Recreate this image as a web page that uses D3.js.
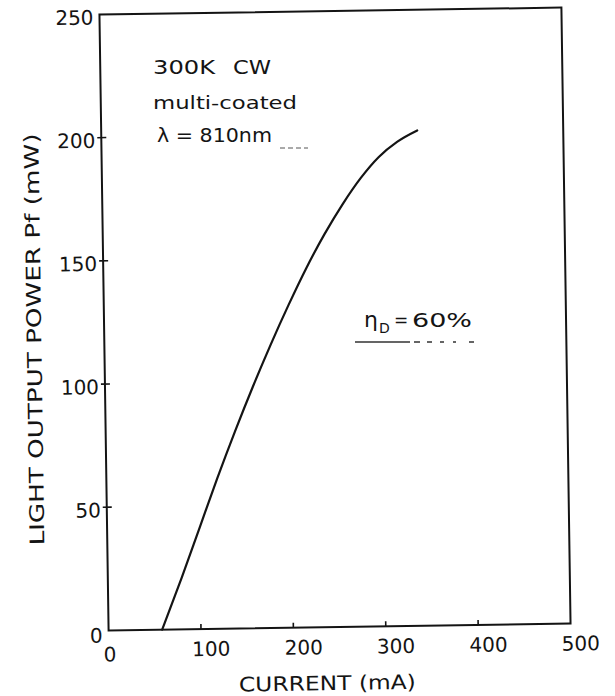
<!DOCTYPE html>
<html>
<head>
<meta charset="utf-8">
<script src="https://cdn.jsdelivr.net/npm/d3@7/dist/d3.min.js"></script>
<style>
  html, body { margin: 0; padding: 0; background: #fff; }
  svg { display: block; }
  text { font-family: "DejaVu Sans", sans-serif; fill: #141414; }
</style>
</head>
<body>
<script>
// Light output vs. drive current, 300K CW, multi-coated facets
const currentMA = [58, 80, 100, 120, 140, 160, 180, 200, 220, 240, 260, 280, 300, 320, 342];
const powerMW   = [0, 21, 41, 61, 80, 98, 115, 131, 146, 159.5, 171.5, 182, 190.5, 196.5, 201];

const xTicks = [0, 100, 200, 300, 400, 500];
const yTicks = [0, 50, 100, 150, 200, 250];

const xTitle = "CURRENT (mA)";
const yTitle = "LIGHT OUTPUT POWER  Pf  (mW)";

const W = 615, H = 696;
const frame = { left: 104, right: 566, top: 11, bottom: 627 };
const ink = "#141414";

const svg = d3.select("body").append("svg")
  .attr("width", W).attr("height", H)
  .attr("viewBox", `0 0 ${W} ${H}`);

svg.append("rect").attr("width", W).attr("height", H).attr("fill", "#fff");

const x = d3.scaleLinear().domain([0, 500]).range([frame.left, frame.right]);
const y = d3.scaleLinear().domain([0, 250]).range([frame.bottom, frame.top]);

// the whole plate sits slightly askew on the page
const cx = (frame.left + frame.right) / 2, cy = (frame.top + frame.bottom) / 2;
const plot = svg.append("g").attr("transform", `rotate(-0.85, ${cx}, ${cy})`);

// frame
plot.append("rect")
  .attr("x", x(0)).attr("y", y(250))
  .attr("width", x(500) - x(0)).attr("height", y(0) - y(250))
  .attr("fill", "none").attr("stroke", ink).attr("stroke-width", 2);

// y axis ticks + labels
const yAxis = plot.append("g");
yAxis.selectAll("line").data(yTicks.filter(d => d > 0 && d < 250)).join("line")
  .attr("x1", x(0) - 4).attr("x2", x(0) + 5)
  .attr("y1", d => y(d)).attr("y2", d => y(d))
  .attr("stroke", ink).attr("stroke-width", 1.6);
yAxis.selectAll("text").data(yTicks).join("text")
  .attr("x", x(0) - 6)
  .attr("y", d => y(d) + (d === 0 ? 12 : 10))
  .attr("text-anchor", "end")
  .attr("font-size", 20)
  .text(d => d);

// x axis ticks + labels
const xAxis = plot.append("g");
xAxis.selectAll("line").data(xTicks.filter(d => d > 0 && d < 500)).join("line")
  .attr("x1", d => x(d)).attr("x2", d => x(d))
  .attr("y1", y(0)).attr("y2", y(0) - 5)
  .attr("stroke", ink).attr("stroke-width", 1.6);
xAxis.selectAll("text").data(xTicks).join("text")
  .attr("x", d => x(d) + (d === 0 ? 1 : 10))
  .attr("y", d => y(0) + (d === 0 ? 31 : 27))
  .attr("text-anchor", "middle")
  .attr("font-size", 20)
  .text(d => d);

// axis titles
plot.append("text")
  .attr("x", 322).attr("y", 690)
  .attr("text-anchor", "middle")
  .attr("font-size", 20)
  .attr("textLength", 177).attr("lengthAdjust", "spacingAndGlyphs")
  .text(xTitle);

plot.append("text")
  .attr("transform", "translate(41, 335) rotate(-90)")
  .attr("text-anchor", "middle")
  .attr("font-size", 20)
  .attr("textLength", 412).attr("lengthAdjust", "spacingAndGlyphs")
  .text(yTitle);

// L-I curve
const pts = currentMA.map((c, i) => [c, powerMW[i]]);
plot.append("path")
  .datum(pts)
  .attr("fill", "none")
  .attr("stroke", ink)
  .attr("stroke-width", 2.2)
  .attr("stroke-linejoin", "round")
  .attr("stroke-linecap", "round")
  .attr("d", d3.line().x(d => x(d[0])).y(d => y(d[1])).curve(d3.curveMonotoneX));

// annotations (lettered on afterwards, level with the page)
const notes = svg.append("g");
const note = (tx, ty, size, len, str) => notes.append("text")
  .attr("x", tx).attr("y", ty).attr("font-size", size)
  .attr("textLength", len).attr("lengthAdjust", "spacingAndGlyphs").text(str);

note(153, 74, 19, 62, "300K");
note(233, 74, 19, 38, "CW");
note(153, 109, 18, 144, "multi-coated");
note(157, 142, 19, 115, "λ = 810nm");
notes.append("line").attr("x1", 280).attr("x2", 308).attr("y1", 148).attr("y2", 148)
  .attr("stroke", "#555").attr("stroke-width", 1).attr("stroke-dasharray", "5,3");

notes.append("text").attr("x", 364).attr("y", 327).attr("font-size", 22).text("η");
notes.append("text").attr("x", 379).attr("y", 333).attr("font-size", 14).text("D");
notes.append("text").attr("x", 394).attr("y", 326).attr("font-size", 17).text("=");
note(412, 327, 19, 60, "60%");
notes.append("line").attr("x1", 355).attr("x2", 476).attr("y1", 342).attr("y2", 342)
  .attr("stroke", "#333").attr("stroke-width", 1.4)
  .attr("stroke-dasharray", "55,4,6,7,5,8,4,9,3,13,5");
</script>
</body>
</html>
